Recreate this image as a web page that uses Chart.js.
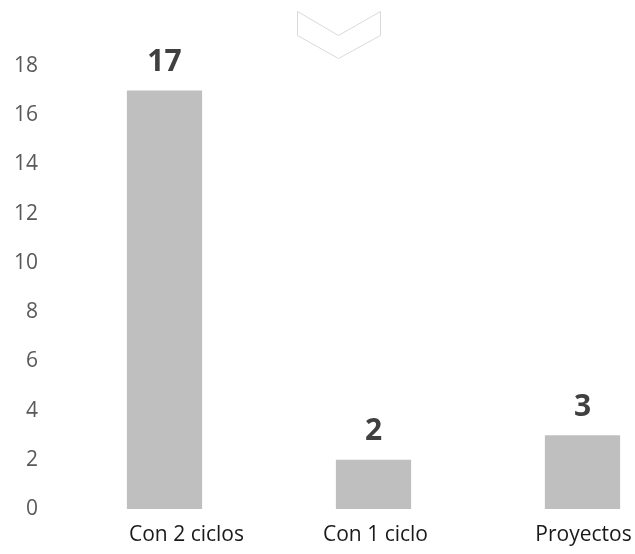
<!DOCTYPE html>
<html>
<head>
<meta charset="utf-8">
<script src="https://cdn.jsdelivr.net/npm/chart.js@4.4.1/dist/chart.umd.min.js"></script>
<style>
  html, body { margin: 0; padding: 0; background: #fff; overflow: hidden; }
  #wrap { width: 635px; height: 554px; overflow: hidden; }
</style>
</head>
<body>
<div id="wrap"><canvas id="chart" width="700" height="554"></canvas></div>
<script>
const categories = ['Con 2 ciclos', 'Con 1 ciclo', 'Proyectos'];
const values = [17, 2, 3];
const yTicks = [0, 2, 4, 6, 8, 10, 12, 14, 16, 18];

const FONT = '"Open Sans", "Liberation Sans", sans-serif';
// en el original la primera etiqueta está corrida a la derecha
const labelShift = [22, 2, 1];

// etiquetas de valor encima de cada barra + etiquetas de categoría
const valueLabels = {
  id: 'valueLabels',
  afterDatasetsDraw(chart) {
    const ctx = chart.ctx;
    const meta = chart.getDatasetMeta(0);
    const xScale = chart.scales.x;
    ctx.save();
    ctx.textAlign = 'center';
    ctx.textBaseline = 'middle';
    ctx.font = 'bold 30px ' + FONT;
    ctx.fillStyle = '#404040';
    meta.data.forEach((bar, i) => {
      ctx.fillText(String(values[i]), bar.x, bar.y - 28);
    });
    ctx.font = '21px ' + FONT;
    ctx.fillStyle = '#1a1a1a';
    categories.forEach((c, i) => {
      ctx.fillText(c, xScale.getPixelForValue(i) + labelShift[i], chart.chartArea.bottom + 26);
    });
    ctx.restore();
  }
};

// la flecha decorativa de arriba
const chevron = {
  id: 'chevron',
  afterDraw(chart) {
    const ctx = chart.ctx;
    ctx.save();
    ctx.strokeStyle = '#d9d9d9';
    ctx.lineWidth = 1;
    ctx.beginPath();
    ctx.moveTo(297.5, 11.5);
    ctx.lineTo(338.5, 35.5);
    ctx.lineTo(380.5, 11.5);
    ctx.lineTo(380.5, 35.5);
    ctx.lineTo(338.5, 58.5);
    ctx.lineTo(297.5, 35.5);
    ctx.closePath();
    ctx.stroke();
    ctx.restore();
  }
};

new Chart(document.getElementById('chart').getContext('2d'), {
  type: 'bar',
  data: {
    labels: categories,
    datasets: [{
      data: values,
      backgroundColor: '#bfbfbf',
      barPercentage: 0.72,
      categoryPercentage: 0.5
    }]
  },
  options: {
    responsive: false,
    animation: false,
    layout: { padding: { top: 66, bottom: 0, left: 0, right: 13 } },
    plugins: { legend: { display: false }, tooltip: { enabled: false } },
    scales: {
      x: {
        afterFit(scale) { scale.height = 45; },
        grid: { display: false, drawTicks: false },
        border: { display: false },
        ticks: { display: false }
      },
      y: {
        min: 0,
        max: 18,
        afterFit(scale) { scale.width = 60; },
        afterBuildTicks(scale) { scale.ticks = yTicks.map(v => ({ value: v })); },
        grid: { display: false, drawTicks: false },
        border: { display: false },
        ticks: {
          color: '#595959',
          font: { family: FONT, size: 21 },
          padding: 22
        }
      }
    }
  },
  plugins: [valueLabels, chevron]
});
</script>
</body>
</html>
